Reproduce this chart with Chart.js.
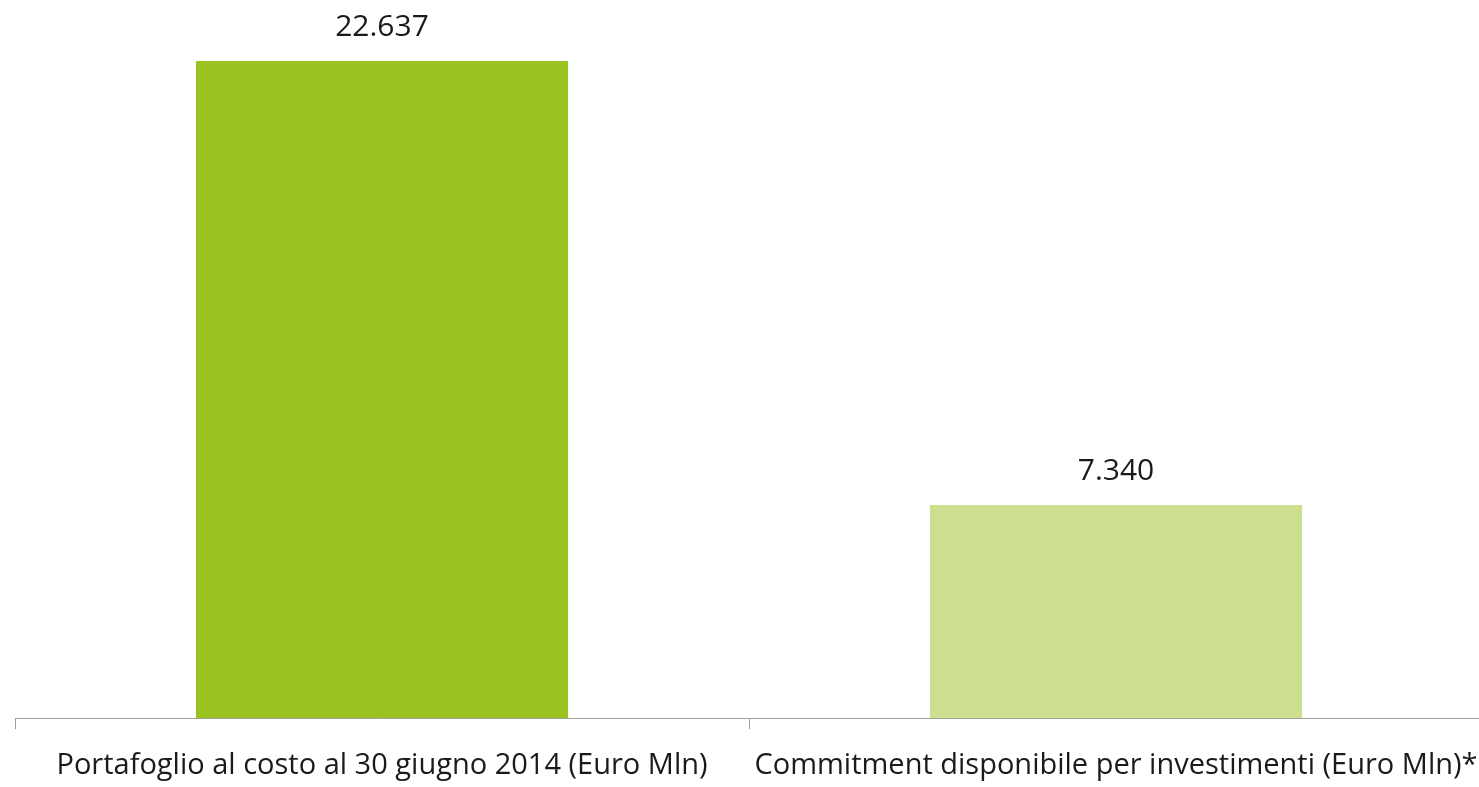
<!DOCTYPE html>
<html>
<head>
<meta charset="utf-8">
<script src="https://cdn.jsdelivr.net/npm/chart.js@4"></script>
<style>
  html, body { margin: 0; padding: 0; background: #fff; overflow: hidden; }
  #wrap { width: 1483px; height: 802px; }
</style>
</head>
<body>
<div id="wrap"><canvas id="barChart"></canvas></div>
<script>
var categories = ['Portafoglio al costo al 30 giugno 2014 (Euro Mln)', 'Commitment disponibile per investimenti (Euro Mln)*'];
var values = [22637, 7340];
var barColors = ['#9ac220', '#cce08f'];

// formato italiano: 22.637
function fmt(v) {
    return String(v).replace(/\B(?=(\d{3})+(?!\d))/g, '.');
}

// etichette sopra le barre
var valueLabels = {
    id: 'valueLabels',
    afterDatasetsDraw: function(chart) {
        var ctx = chart.ctx;
        var meta = chart.getDatasetMeta(0);
        ctx.save();
        ctx.font = '30px "Open Sans", sans-serif';
        ctx.fillStyle = '#1a1a1a';
        ctx.textAlign = 'center';
        ctx.textBaseline = 'middle';
        meta.data.forEach(function(bar, i) {
            ctx.fillText(fmt(values[i]), bar.x, bar.y - 34);
        });
        ctx.restore();
    }
};

var ctx = document.getElementById('barChart').getContext('2d');
new Chart(ctx, {
    type: 'bar',
    data: {
        labels: categories,
        datasets: [{
            data: values,
            backgroundColor: barColors,
            barPercentage: 0.507,
            categoryPercentage: 1
        }]
    },
    options: {
        responsive: true,
        maintainAspectRatio: false,
        animation: false,
        layout: { padding: { top: 61, left: 15, right: 0, bottom: 0 } },
        plugins: {
            legend: { display: false },
            tooltip: { enabled: false }
        },
        scales: {
            y: {
                display: false,
                min: 0,
                max: Math.max.apply(null, values)
            },
            x: {
                afterFit: function(scale) {
                    // niente spazio extra per le etichette ai lati
                    scale.paddingLeft = 0;
                    scale.paddingRight = 0;
                },
                grid: {
                    offset: true,
                    drawOnChartArea: false,
                    drawTicks: true,
                    tickLength: 11,
                    color: '#a0a0a0'
                },
                border: { color: '#a0a0a0', width: 1 },
                ticks: {
                    color: '#1a1a1a',
                    padding: 19,
                    maxRotation: 0,
                    autoSkip: false,
                    font: { family: '"Open Sans", sans-serif', size: 29 }
                }
            }
        }
    },
    plugins: [valueLabels]
});
</script>
</body>
</html>
